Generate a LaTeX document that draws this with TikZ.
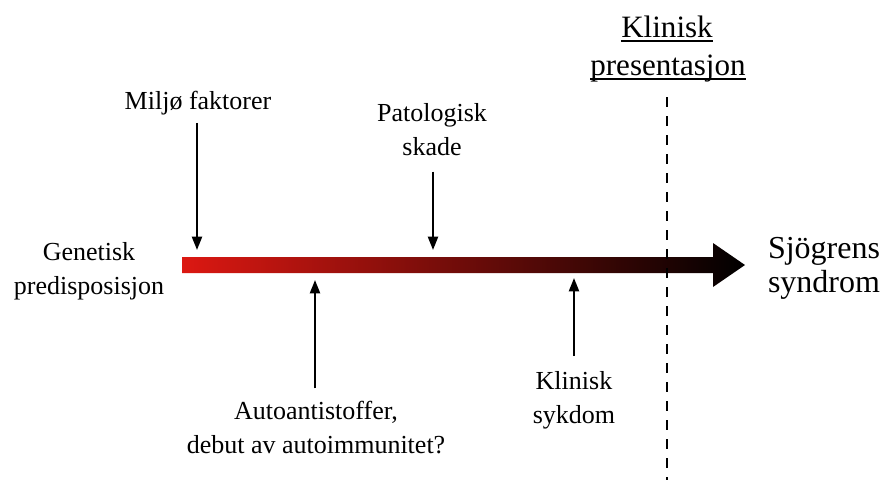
\documentclass[tikz,border=0pt]{standalone}
\usepackage{fontspec}
\setmainfont{Liberation Serif}
\usetikzlibrary{arrows.meta}
\definecolor{barred}{RGB}{220,24,18}
\begin{document}
\begin{tikzpicture}[x=0.75pt,y=-0.75pt,
  lbl/.style={inner sep=0pt, anchor=base, align=center, font=\fontsize{19.5}{25.5}\selectfont},
  big/.style={inner sep=0pt, anchor=base, align=center, font=\fontsize{24}{25.5}\selectfont},
  head/.style={inner sep=0pt, anchor=base, font=\fontsize{23.3}{28}\selectfont},
  ptr/.style={line width=1.6pt, -{Triangle[length=10pt,width=7.5pt]}},
  sepline/.style={line width=2.2pt, dash pattern=on 7.5pt off 6.75pt},
  uline/.style={line width=1.4pt}]
\useasboundingbox (0,0) rectangle (882,480);

% timeline bar with gradient
\shade[left color=barred, right color=black]
  (182,257) -- (713,257) -- (713,243) -- (745,265) -- (713,287) -- (713,273) -- (182,273) -- cycle;

% labels (base = baseline of last line)
\node[lbl] (miljo) at (198,109) {Miljø faktorer};
\node[lbl] (gen) at (89,294) {Genetisk\\predisposisjon};
\node[lbl] (pato) at (432,155) {Patologisk\\skade};
\node[lbl] (auto) at (316,453) {Autoantistoffer,\\debut av autoimmunitet?};
\node[lbl] (klsyk) at (574,423) {Klinisk\\sykdom};
\node[big] (sjo) at (824,292) {Sjögrens\\syndrom};
\node[head] (klin1) at (667,37) {Klinisk};
\node[head] (klin2) at (668,75) {presentasjon};

% underlines of the heading
\draw[uline] ([yshift=-3pt]klin1.base west) -- ([yshift=-3pt]klin1.base east);
\draw[uline] ([yshift=-3pt]klin2.base west) -- ([yshift=-3pt]klin2.base east);

% arrow end points on the bar
\coordinate (mtip) at (197,250);
\coordinate (ptip) at (433,250);
\coordinate (atip) at (315,280);
\coordinate (ktip) at (574,278);

\draw[ptr, shorten <=6pt] (miljo.south -| mtip) -- (mtip);
\draw[ptr, shorten <=12pt] (pato.south -| ptip) -- (ptip);
\draw[ptr, shorten <=9pt] (auto.north -| atip) -- (atip);
\draw[ptr, shorten <=11pt] (klsyk.north -| ktip) -- (ktip);

% dashed separator
\coordinate (dtop) at (667,97);
\coordinate (dbot) at (667,480);
\draw[sepline] (dtop) -- (dbot);
\end{tikzpicture}
\end{document}
